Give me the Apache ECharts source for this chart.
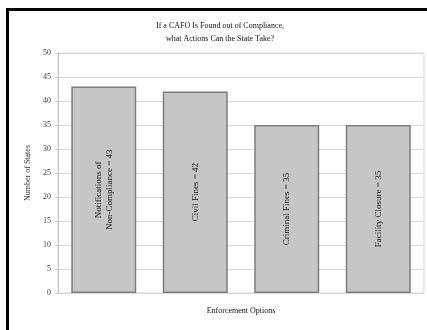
<!DOCTYPE html>
<html>
<head>
<meta charset="utf-8">
<script src="https://cdn.jsdelivr.net/npm/echarts@6/dist/echarts.min.js"></script>
<style>
  html, body { margin: 0; padding: 0; background: #fff; }
  #chart { width: 427px; height: 330px; }
</style>
</head>
<body>
<div id="chart"></div>
<script>
// Enforcement options and the number of states that can use each
const categories = ['Notifications of Non-Compliance', 'Civil Fines', 'Criminal Fines', 'Facility Closure'];
const barLabels = ['Notifications of\nNon-Compliance = 43', 'Civil Fines = 42', 'Criminal Fines = 35', 'Facility Closure = 35'];
const stateCounts = [43, 42, 35, 35];
const yTicks = { min: 0, max: 50, interval: 5 };

const serif = '"Liberation Serif", "DejaVu Serif", serif';
const chart = echarts.init(document.getElementById('chart'), null, { renderer: 'canvas' });

chart.setOption({
  animation: false,
  backgroundColor: '#ffffff',
  title: {
    text: 'If a CAFO Is Found out of Compliance,\nwhat Actions Can the State Take?',
    left: 215,
    top: 14,
    textAlign: 'center',
    textStyle: { fontFamily: serif, fontSize: 8, fontWeight: 'normal', color: '#111', lineHeight: 13 }
  },
  graphic: [{
    type: 'rect',
    shape: { x: 7.5, y: 9.5, width: 500, height: 400 },
    style: { fill: 'none', stroke: '#000', lineWidth: 3 },
    silent: true
  }],
  grid: {
    left: 58, right: 3, top: 53, bottom: 37,
    show: true, borderColor: '#d4d4d4', borderWidth: 1, backgroundColor: 'transparent'
  },
  xAxis: {
    type: 'category',
    data: categories,
    name: 'Enforcement Options',
    nameLocation: 'middle',
    nameGap: 14,
    nameTextStyle: { fontFamily: serif, fontSize: 8, color: '#111' },
    axisLine: { show: false },
    axisTick: { show: false },
    axisLabel: { show: false }
  },
  yAxis: {
    type: 'value',
    min: yTicks.min, max: yTicks.max, interval: yTicks.interval,
    name: 'Number of States',
    nameLocation: 'middle',
    nameGap: 22,
    nameTextStyle: { fontFamily: serif, fontSize: 8, color: '#333' },
    axisLine: { show: true, lineStyle: { color: '#c8c8c8' } },
    axisTick: { show: true, length: 3, lineStyle: { color: '#c8c8c8' } },
    axisLabel: { fontFamily: serif, fontSize: 8, color: '#444', margin: 7 },
    splitLine: { show: true, lineStyle: { color: '#d8d8d8', width: 1 } }
  },
  series: [{
    type: 'bar',
    data: stateCounts,
    barCategoryGap: '29%',
    itemStyle: { color: '#c6c6c6', borderColor: '#7e7e7e', borderWidth: 1.5 },
    label: {
      show: true,
      position: 'inside',
      rotate: 90,
      align: 'center',
      verticalAlign: 'middle',
      fontFamily: serif,
      fontSize: 9,
      color: '#111',
      lineHeight: 11,
      formatter: p => barLabels[p.dataIndex]
    }
  }]
});
</script>
</body>
</html>
